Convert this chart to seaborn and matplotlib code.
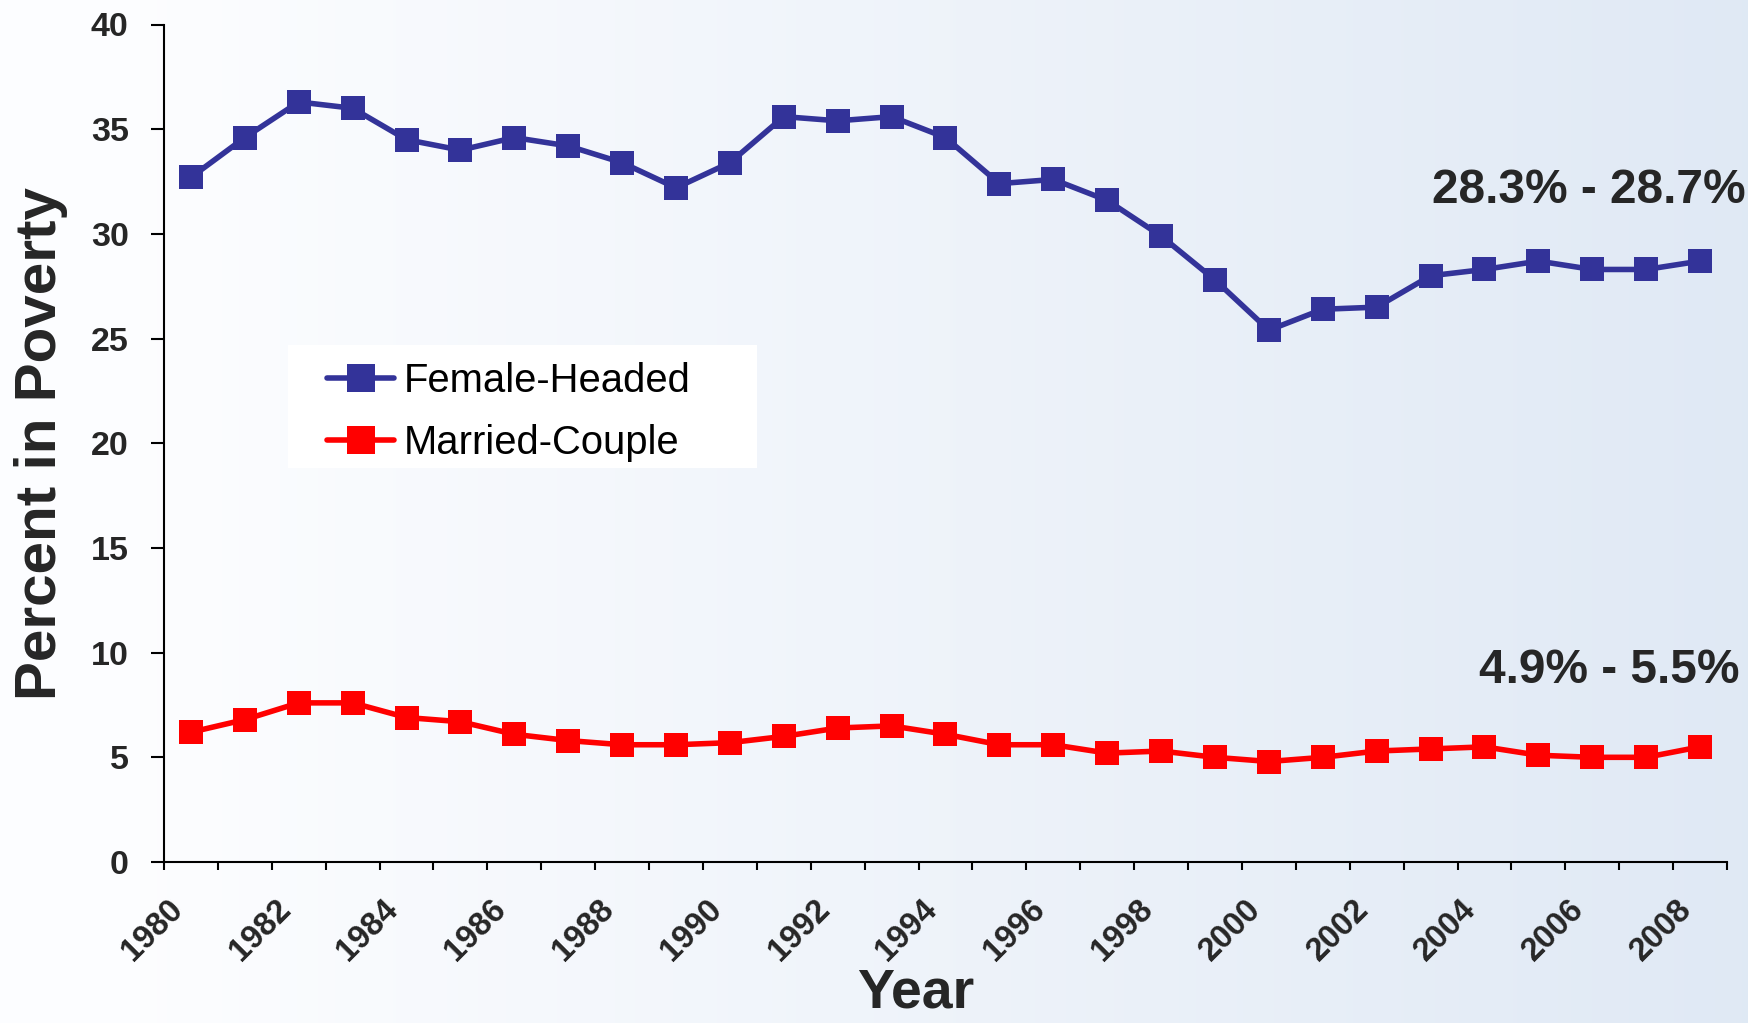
import numpy as np
import pandas as pd
import matplotlib
matplotlib.use("Agg")
import matplotlib.pyplot as plt
from matplotlib.patches import Rectangle
from matplotlib.transforms import ScaledTranslation
import seaborn as sns

years = list(range(1980, 2009))
female_headed = [32.7, 34.6, 36.3, 36.0, 34.5, 34.0, 34.6, 34.2, 33.4, 32.2,
                 33.4, 35.6, 35.4, 35.6, 34.6, 32.4, 32.6, 31.6, 29.9, 27.8,
                 25.4, 26.4, 26.5, 28.0, 28.3, 28.7, 28.3, 28.3, 28.7]
married_couple = [6.2, 6.8, 7.6, 7.6, 6.9, 6.7, 6.1, 5.8, 5.6, 5.6,
                  5.7, 6.0, 6.4, 6.5, 6.1, 5.6, 5.6, 5.2, 5.3, 5.0,
                  4.8, 5.0, 5.3, 5.4, 5.5, 5.1, 5.0, 5.0, 5.5]
series_names = ["Female-Headed", "Married-Couple"]
series_colors = ["#333399", "#FF0000"]
y_ticks = [0, 5, 10, 15, 20, 25, 30, 35, 40]
x_labels = [str(y) for y in range(1980, 2009, 2)]
annotations = ["28.3% - 28.7%", "4.9% - 5.5%"]

sns.set_theme(style="white")
plt.rcParams["font.family"] = ["Liberation Sans", "DejaVu Sans"]

df = pd.DataFrame({
    "Year": years * 2,
    "Value": female_headed + married_couple,
    "Series": [series_names[0]] * len(years) + [series_names[1]] * len(years),
})

W, H = 1749, 1023
fig = plt.figure(figsize=(W / 100, H / 100), dpi=100)

# background gradient (left near-white to light blue on the right)
bg = fig.add_axes([0, 0, 1, 1], zorder=-10)
g = np.linspace(0, 1, 512)
g = np.clip((g - 0.08) / 0.92, 0, 1)
c0 = np.array([0.99, 0.993, 1.0])
c1 = np.array([0.878, 0.914, 0.96])
img = c0[None, None, :] * (1 - g[None, :, None]) + c1[None, None, :] * g[None, :, None]
bg.imshow(img, aspect="auto", extent=[0, 1, 0, 1])
bg.set_axis_off()

ax = fig.add_axes([164 / W, 1 - 862 / H, (1727 - 164) / W, (862 - 24.5) / H])
ax.set_facecolor("none")

# white legend box
ax.add_patch(Rectangle((288 / W, 1 - 468 / H), (757 - 288) / W, (468 - 345) / H,
                       transform=fig.transFigure, facecolor="white", edgecolor="none", zorder=1))

sns.lineplot(data=df, x="Year", y="Value", hue="Series", hue_order=series_names,
             palette=series_colors, marker="s", markersize=17, markeredgewidth=0,
             linewidth=4.0, ax=ax, legend=True, zorder=3)

ax.set_xlim(1979.5, 2008.5)
ax.set_ylim(0, 40)
ax.set_yticks(y_ticks)
ax.set_yticklabels([str(t) for t in y_ticks], fontsize=24.5, fontweight="bold")

ax.set_xticks(np.arange(1979.5, 2009.0, 1.0))
ax.set_xticklabels([])
ax.set_xticks(list(range(1980, 2009, 2)), minor=True)
ax.set_xticklabels(x_labels, minor=True, rotation=45, ha="right", va="center",
                   rotation_mode="anchor", fontsize=23.5, fontweight="bold")
ax.tick_params(axis="x", which="major", direction="out", length=6, width=1.5, color="black", bottom=True)
ax.tick_params(axis="x", which="minor", length=0, pad=31, bottom=True)
ax.tick_params(axis="y", direction="out", length=9.4, width=1.5, color="black", left=True, pad=16)

# shift rotated year labels slightly left (after tick_params, which resets transforms)
shift = ScaledTranslation(-13 / 100, 0, fig.dpi_scale_trans)
for lbl in ax.get_xticklabels(minor=True):
    lbl.set_transform(lbl.get_transform() + shift)

for s in ["top", "right"]:
    ax.spines[s].set_visible(False)
for s in ["left", "bottom"]:
    ax.spines[s].set_color("black")
    ax.spines[s].set_linewidth(1.5)

ax.set_xlabel("Year", fontsize=40, fontweight="bold", va="top")
ax.xaxis.set_label_coords((916 - 164) / 1563, (862 - 967) / 837.5)
ax.set_ylabel("Percent in Poverty", fontsize=42, fontweight="bold")
ax.yaxis.set_label_coords((68 - 164) / 1563, 0.5)

ax.text(1746 / W, 1 - 203 / H, annotations[0], ha="right", va="baseline",
        fontsize=34.5, fontweight="bold", transform=fig.transFigure)
ax.text(1740 / W, 1 - 683 / H, annotations[1], ha="right", va="baseline",
        fontsize=34.5, fontweight="bold", transform=fig.transFigure)

leg = ax.legend(loc="center left", bbox_to_anchor=(327 / W, 1 - 412 / H),
                bbox_transform=fig.transFigure, frameon=False,
                fontsize=28.8, handlelength=1.68, handletextpad=0.25, labelspacing=0.62,
                borderpad=0, borderaxespad=0, markerscale=1.15)
leg.set_zorder(4)
for t in leg.get_texts():
    t.set_color("black")

fig.savefig("out.png", dpi=100)
